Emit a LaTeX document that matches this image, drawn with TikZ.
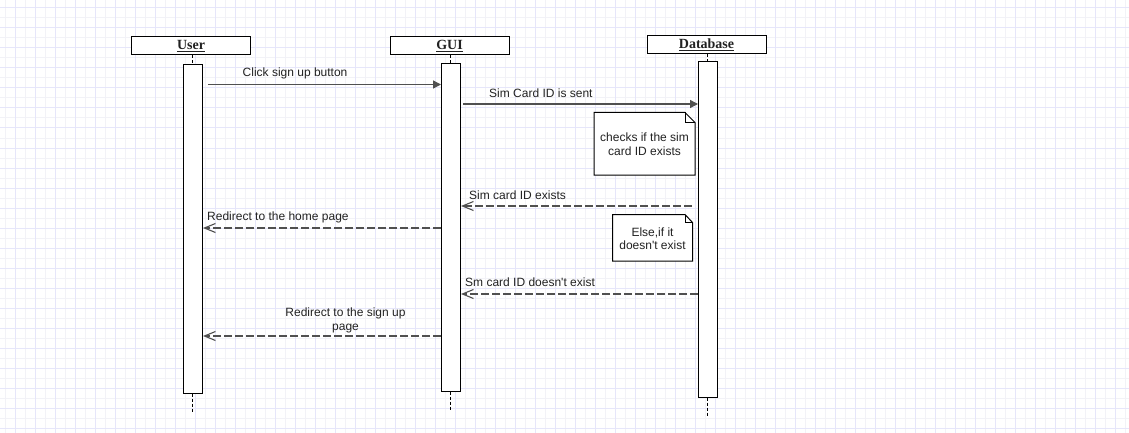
\documentclass[tikz,border=0pt]{standalone}
\usepackage{fontspec}
\setmainfont{Liberation Sans}
\newfontfamily\hdrfont{Liberation Serif}
\usetikzlibrary{arrows.meta,calc}
\definecolor{gridA}{RGB}{230,230,250}
\definecolor{gridB}{RGB}{242,242,247}
\definecolor{msgcol}{RGB}{80,80,80}
\definecolor{txtcol}{RGB}{34,34,34}
\tikzset{
  actorbox/.style={draw=black, line width=1pt, fill=white, minimum width=119pt, minimum height=18pt, inner sep=0pt, font=\hdrfont\bfseries\fontsize{14}{16}\selectfont, text=txtcol},
  actbar/.style={draw=black, line width=1pt, fill=white, minimum width=19pt, inner sep=0pt},
  lifeline/.style={draw=black, line width=1pt, dash pattern=on 3pt off 2pt},
  syncmsg/.style={draw=msgcol, line width=1.3pt, -{Triangle[length=8pt,width=8pt]}},
  retmsg/.style={draw=msgcol, line width=1.3pt, dash pattern=on 8pt off 3pt, -{Straight Barb[length=11pt,width=9pt,line width=1.1pt]}},
  lbl/.style={inner sep=0pt, text=txtcol, font=\fontsize{12}{14}\selectfont, align=center},
  notetext/.style={inner sep=0pt, text=txtcol, font=\fontsize{12}{13.5}\selectfont, align=center},
  notepath/.style={draw=black, line width=1pt, fill=white}
}
\begin{document}
\begin{tikzpicture}[x=1pt,y=-1pt]
\useasboundingbox (0,0) rectangle (1129,433);
\fill[white] (0,0) rectangle (1129,433);
% grid
\foreach \x in {5,25,...,1125} \draw[gridB, line width=1pt] (\x,0) -- (\x,433);
\foreach \y in {18,38,...,433} \draw[gridB, line width=1pt] (0,\y) -- (1129,\y);
\foreach \x in {15,35,...,1129} \draw[gridA, line width=1pt] (\x,0) -- (\x,433);
\foreach \y in {8,28,...,433} \draw[gridA, line width=1pt] (0,\y) -- (1129,\y);

% actors
\node[actorbox] (user) at (191,46) {\underline{User}};
\node[actorbox] (gui) at (449.5,46) {\underline{GUI}};
\node[actorbox] (db) at (706.5,45) {\underline{Database}};

% lifeline ends
\coordinate (userend) at (192,413);
\coordinate (guiend) at (450,411);
\coordinate (dbend) at (707,416);

% activation bars
\node[actbar, minimum height=328pt] (ua) at (193,229) {};
\node[actbar, minimum height=327pt] (ga) at (451,227.5) {};
\node[actbar, minimum height=335pt] (da) at (708,229.5) {};

% lifelines
\draw[lifeline] (user.south -| userend) -- (ua.north -| userend);
\draw[lifeline] (ua.south -| userend) -- (userend);
\draw[lifeline] (gui.south -| guiend) -- (ga.north -| guiend);
\draw[lifeline] (ga.south -| guiend) -- (guiend);
\draw[lifeline] (db.south -| dbend) -- (da.north -| dbend);
\draw[lifeline] (da.south -| dbend) -- (dbend);

% message 1
\coordinate (m1s) at (208,84.5);
\draw[syncmsg] (m1s) -- (ga.west |- m1s);
\node[lbl, anchor=west] (l1) at (242.5,73) {Click sign up button};

% message 2
\coordinate (m2s) at (463,104);
\draw[syncmsg] (m2s) -- (da.west |- m2s);
\node[lbl, anchor=west] (l2) at (489,93.5) {Sim Card ID is sent};

% note 1
\coordinate (n1tl) at (594,112.5);
\coordinate (n1br) at (695,175);
\draw[notepath] (n1tl) -- (685,112.5) -- (695,122.5) -- (n1br) -- (594,175) -- cycle;
\draw[black, line width=1pt] (685,112.5) -- (685,122.5) -- (695,122.5);
\node[notetext] (n1) at (644.5,144) {checks if the sim\\card ID exists};

% message 3 (return)
\coordinate (m3s) at (692,206);
\draw[retmsg] (m3s) -- (ga.east |- m3s);
\node[lbl, anchor=west] (l3) at (469,195) {Sim card ID exists};

% message 4 (return)
\coordinate (m4s) at (441,228);
\draw[retmsg] (ga.west |- m4s) -- (ua.east |- m4s);
\node[lbl, anchor=west] (l4) at (207,217) {Redirect to the home page};

% note 2
\draw[notepath] (612.5,214.5) -- (685,214.5) -- (692.5,222.5) -- (692.5,261) -- (612.5,261) -- cycle;
\draw[black, line width=1pt] (685,214.5) -- (685,222.5) -- (692.5,222.5);
\node[notetext] (n2) at (652.5,238.5) {Else,if it\\doesn\textquotesingle t exist};

% message 5 (return)
\coordinate (m5s) at (698,294);
\draw[retmsg] (da.west |- m5s) -- (ga.east |- m5s);
\node[lbl, anchor=west] (l5) at (465,282) {Sm card ID doesn\textquotesingle t exist};

% message 6 (return)
\coordinate (m6s) at (441,336);
\draw[retmsg] (ga.west |- m6s) -- (ua.east |- m6s);
\node[lbl] (l6) at (345.5,320.5) {Redirect to the sign up\\page};
\end{tikzpicture}
\end{document}
